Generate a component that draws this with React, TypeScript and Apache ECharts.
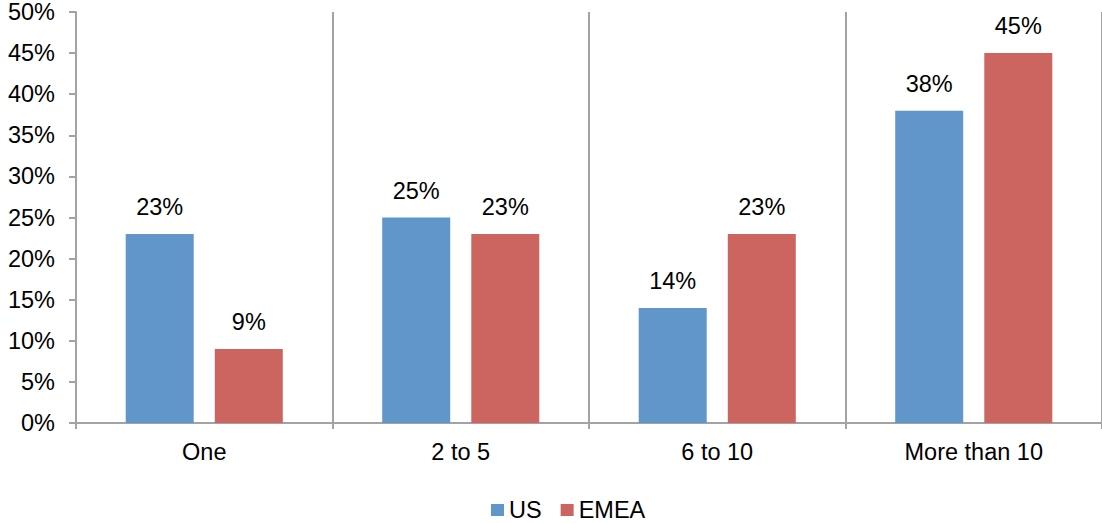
import React, { useEffect, useRef } from "react";
import * as echarts from "echarts";

// Number of sites per company, share of respondents by region
const categories = ["One", "2 to 5", "6 to 10", "More than 10"];
const usValues = [23, 25, 14, 38];
const emeaValues = [9, 23, 23, 45];
const seriesNames = ["US", "EMEA"];

const FONT = "'Liberation Sans', Arial, sans-serif";
const AXIS_GRAY = "#a3a3a3";

export default function App() {
  const ref = useRef<HTMLDivElement>(null);

  useEffect(() => {
    if (!ref.current) return;
    const chart = echarts.init(ref.current, undefined, { renderer: "svg" });

    const labelStyle = {
      show: true,
      position: "top" as const,
      distance: 15,
      formatter: "{c}%",
      color: "#000",
      fontSize: 23.5,
      fontFamily: FONT,
    };

    chart.setOption({
      animation: false,
      textStyle: { fontFamily: FONT },
      grid: { left: 76, top: 12, width: 1031, height: 411 },
      legend: {
        data: seriesNames,
        left: 486,
        top: 492,
        padding: 5,
        itemWidth: 13,
        itemHeight: 12,
        itemGap: 19,
        icon: "rect",
        textStyle: {
          color: "#000",
          fontSize: 23.5,
          fontFamily: FONT,
          lineHeight: 26,
        },
      },
      xAxis: {
        type: "category",
        data: categories,
        axisLine: { lineStyle: { color: AXIS_GRAY, width: 2 } },
        axisTick: { show: true, length: 6, lineStyle: { color: AXIS_GRAY, width: 2 } },
        splitLine: { show: true, lineStyle: { color: AXIS_GRAY, width: 2 } },
        axisLabel: {
          color: "#000",
          fontSize: 23.5,
          fontFamily: FONT,
          margin: 17,
        },
      },
      yAxis: {
        type: "value",
        min: 0,
        max: 50,
        interval: 5,
        axisLine: { show: true, lineStyle: { color: AXIS_GRAY, width: 2 } },
        axisTick: { show: true, length: 7, lineStyle: { color: AXIS_GRAY, width: 2 } },
        splitLine: { show: false },
        axisLabel: {
          formatter: "{value}%",
          color: "#000",
          fontSize: 23.5,
          fontFamily: FONT,
          margin: 21,
        },
      },
      series: [
        {
          name: seriesNames[0],
          type: "bar",
          data: usValues,
          barWidth: 68,
          barGap: "31%",
          itemStyle: { color: "#6096c9" },
          label: labelStyle,
        },
        {
          name: seriesNames[1],
          type: "bar",
          data: emeaValues,
          barWidth: 68,
          itemStyle: { color: "#cc6560" },
          label: labelStyle,
        },
      ],
    });

    return () => chart.dispose();
  }, []);

  return (
    <div
      ref={ref}
      style={{ position: "fixed", left: 0, top: 0, width: 1102, height: 523, background: "#fff" }}
    />
  );
}
